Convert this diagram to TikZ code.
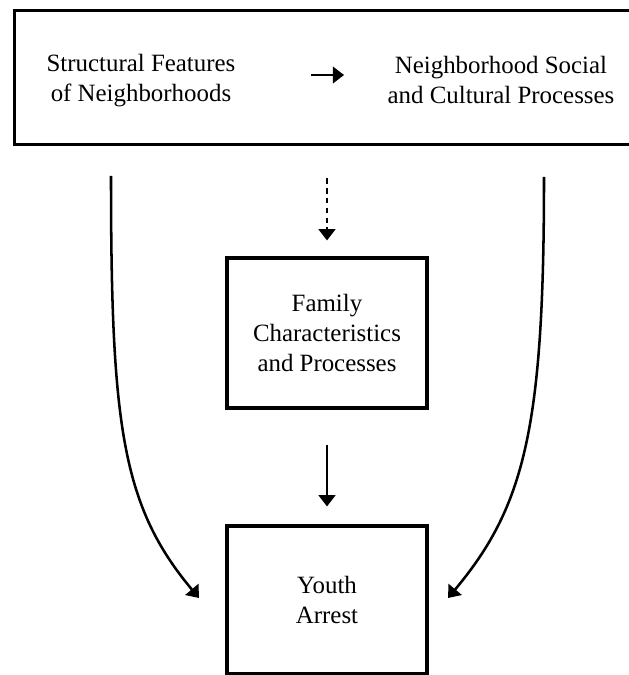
\documentclass[tikz,border=0pt]{standalone}
\usepackage{fontspec}
\setmainfont{Liberation Serif}
\usetikzlibrary{arrows.meta}

\begin{document}
\begin{tikzpicture}[x=0.025cm,y=-0.025cm,>={Triangle[length=8pt,width=12pt]},
    every node/.style={font=\fontsize{17.7}{21.3}\selectfont,align=center}]
    \tikzstyle{box}=[draw=black,line width=2.2pt,inner sep=0pt]
    \tikzstyle{link}=[->,line width=1.2pt]
    \tikzstyle{curve}=[->,line width=1.8pt]
    \useasboundingbox (0,0) rectangle (629,675);
    % boxes
    \node[box,anchor=north west,minimum width=15.7cm,minimum height=3.35cm] (top) at (13,9) {};
    \node (struct) at (141,81) {Structural Features\\of Neighborhoods};
    \node (social) at (501,80) {Neighborhood Social\\and Cultural Processes};
    \node[box,minimum width=5cm,minimum height=3.75cm] (family) at (327,333) {Family\\Characteristics\\and Processes};
    \node[box,minimum width=5cm,minimum height=3.7cm] (youth) at (327,600) {Youth\\Arrest};
    % free ends
    \coordinate (a) at (311,75);
    \coordinate (b) at (344,75);
    \coordinate (l0) at (111,176);
    \coordinate (l1) at (199,598);
    \coordinate (r0) at (544,177);
    \coordinate (r1) at (448,598);
    % arrows
    \draw[link] (a) -- (b);
    \draw[link,dash pattern=on 4pt off 3pt,shorten <=0.8cm,shorten >=0.4cm] (top.south -| family.north) -- (family.north);
    \draw[link,shorten <=0.875cm,shorten >=0.45cm] (family) -- (youth);
    \draw[curve] (l0) .. controls (111,426) and (122,506) .. (l1);
    \draw[curve] (r0) .. controls (544,427) and (525,506) .. (r1);
\end{tikzpicture}
\end{document}
